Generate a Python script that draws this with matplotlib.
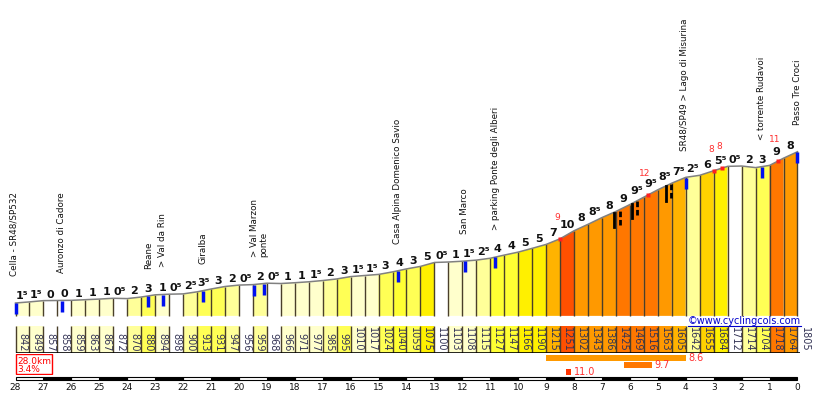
import numpy as np
import matplotlib
matplotlib.use('Agg')
import matplotlib.pyplot as plt
from matplotlib.patches import Rectangle
from matplotlib.lines import Line2D

# elevation (m) every 500 m, from km 28 to the top (km 0)
elevations = [842, 849, 857, 858, 859, 863, 867, 872, 870, 880, 894, 898, 900, 913, 931, 947,
              956, 959, 968, 966, 971, 977, 985, 995, 1010, 1017, 1024, 1040, 1059, 1075, 1100,
              1103, 1108, 1115, 1127, 1147, 1166, 1190, 1215, 1251, 1302, 1343, 1386, 1425, 1469,
              1516, 1563, 1605, 1642, 1655, 1684, 1712, 1714, 1704, 1718, 1764, 1805]
# gradient (%) printed over each 500 m segment
gradients = [1.5, 1.5, 0, 0, 1, 1, 1, 0.5, 2, 3, 1, 0.5, 2.5, 3.5, 3, 2, 0.5, 2, 0.5, 1,
             1, 1.5, 2, 3, 1.5, 1.5, 3, 4, 3, 5, 0.5, 1, 1.5, 2.5, 4, 4, 5, 5, 7, 10,
             8, 8.5, 8, 9, 9.5, 9.5, 8.5, 7.5, 2.5, 6, 5.5, 0.5, 2, 3, 9, 8]

# points of interest (km to go)
poi_ticks = [28.0, 26.33, 23.25, 22.72, 21.29, 19.46, 19.10, 14.30, 11.90, 10.83, 3.99, 1.27, 0.0]
poi_label_km = [28.05, 26.36, 23.25, 22.72, 21.29, 19.27, 14.33, 11.93, 10.83, 4.06, 1.30, 0.0]
poi_names = ['Cella - SR48/SP532', 'Auronzo di Cadore', 'Reane', '> Val da Rin', 'Giralba',
             '> Val Marzon\nponte', 'Casa Alpina Domenico Savio', 'San Marco',
             '> parking Ponte degli Alberi', 'SR48/SP49 > Lago di Misurina',
             '< torrente Rudavoi', 'Passo Tre Croci']

# local maximum gradients
max_km = [8.5, 5.37, 3.0, 2.7, 0.7]
max_val = [9, 12, 8, 8, 11]

# tunnels / galleries
tunnel_km = [6.56, 5.92, 4.71]

# steepest sections
steep_start = [9.0, 6.2, 8.3]
steep_end = [4.0, 5.2, 8.1]
steep_val = [8.6, 9.7, 11.0]

total_km = 28


def grade_color(g):
    g = abs(g)
    cols = ['#FFFFFF', '#FFFFCC', '#FFFF99', '#FFFF55', '#FFFF33', '#FFF000',
            '#FFD200', '#FFB300', '#FF9900', '#FF7700', '#FF5000', '#FF3300']
    return cols[min(int(g), 11)]


def grade_text(g):
    w = int(g)
    return f'{w}\u2075' if g - w else f'{w}'


W, H = 814, 393
fig = plt.figure(figsize=(W / 100, H / 100), dpi=100)
xl = (28.555, -0.591)


def px_axes(top, bottom):
    a = fig.add_axes([0, 1 - bottom / H, 1, (bottom - top) / H])
    a.set_xlim(*xl)
    a.axis('off')
    a.patch.set_alpha(0)
    return a


kms = total_km - 0.5 * np.arange(len(elevations))
elev = np.array(elevations)


def elev_at(k):
    return np.interp(k, kms[::-1], elev[::-1])


# ---- profile
ax = px_axes(0, H)
ax.set_ylim(269, 2771)
base = 760
for i, g in enumerate(gradients):
    ax.fill([kms[i], kms[i], kms[i + 1], kms[i + 1]],
            [base, elev[i], elev[i + 1], base], color=grade_color(g), lw=0)
ax.vlines(kms, base, elev, color='#4a3f2a', lw=1)
ax.plot(kms, elev, color='#808080', lw=1.1)

for i, g in enumerate(gradients):
    ax.text((kms[i] + kms[i + 1]) / 2, max(elev[i], elev[i + 1]) + 18, grade_text(g),
            ha='center', va='baseline', fontsize=8, fontweight='bold', color='#111111')

for k in poi_ticks:
    e = elev_at(k)
    ax.vlines(k, e - 72, e - 2, color='#0010F0', lw=2.5)

for k, name in zip(poi_label_km, poi_names):
    ax.text(k, elev_at(k) + 172, name, rotation=90, ha='center', va='bottom',
            multialignment='left', fontsize=6.3, color='#111111', linespacing=1.0)

for k, v in zip(max_km, max_val):
    e = elev_at(k)
    ax.plot(k, e, 's', ms=2.5, color='#FF2020', mec='none')
    ax.text(k + 0.1, e + 108, str(v), ha='center', va='bottom', fontsize=6.5, color='#FF3030')

for k in tunnel_km:
    e = elev_at(k)
    ax.plot([k, k], [e - 95, e - 3], color='black', lw=2)
    e2 = elev_at(k - 0.19)
    ax.plot([k - 0.19, k - 0.19], [e2 - 95, e2 - 3], color='black', lw=2, ls=(0, (2, 1)))

# ---- elevation strip
ax2 = px_axes(326, 353)
ax2.set_ylim(0, 1)
for i, e in enumerate(elevations):
    c = grade_color(gradients[i]) if i < len(gradients) else '#FFFFFF'
    ax2.add_patch(Rectangle((kms[i] - 0.5, 0), 0.5, 1, facecolor=c, lw=0))
    ax2.text(kms[i] - 0.25, 0.06, str(e), rotation=-90, ha='center', va='bottom',
             fontsize=7, color='#333355')
ax2.vlines(kms, 0, 1, color='#4a3f2a', lw=1)
ax2.hlines(0.0, kms[0], kms[-1] - 0.1, color='black', lw=1.2)

# ---- steepest sections and summary box
ax3 = px_axes(354, 375)
ax3.set_ylim(3, 0)
for r, (s, e, v) in enumerate(zip(steep_start, steep_end, steep_val)):
    ax3.add_patch(Rectangle((e, r + 0.15), s - e, 0.8, facecolor=grade_color(v), lw=0))
    ax3.text(e - 0.08, r + 0.6, f'{v:.1f}', ha='left', va='center', fontsize=7, color='#FF3030')

ax3.add_patch(Rectangle((26.71, 0.07), 1.29, 2.72, facecolor='white', edgecolor='#FF0000', lw=1))
avg = 100 * (elevations[-1] - elevations[0]) / (total_km * 1000)
ax3.text(27.93, 1.05, f'{total_km:.1f}km', ha='left', va='center', fontsize=6.5, color='#FF0000')
ax3.text(27.93, 2.15, f'{avg:.1f}%', ha='left', va='center', fontsize=6.5, color='#FF0000')

# ---- km scale
ax4 = px_axes(375, H)
ax4.set_ylim(H, 375)
for k in range(total_km):
    ax4.add_patch(Rectangle((k, 376.5), 1, 3, facecolor='black' if k % 2 == 0 else 'white',
                            edgecolor='black', lw=0.8))
for k in range(total_km + 1):
    ax4.text(k, 387.5, str(k), ha='center', va='center', fontsize=6.5, color='#111111')

# ---- copyright
t = fig.text(801 / W, 1 - 324 / H, '\u00a9www.cyclingcols.com', ha='right', va='baseline',
             fontsize=7, color='#0000CC')
fig.canvas.draw()
bb = t.get_window_extent(fig.canvas.get_renderer())
fig.add_artist(Line2D([bb.x0 / W, bb.x1 / W], [(H - 325.5) / H] * 2, transform=fig.transFigure,
                      color='#0000CC', lw=0.8))

fig.savefig('out.png', dpi=100)
